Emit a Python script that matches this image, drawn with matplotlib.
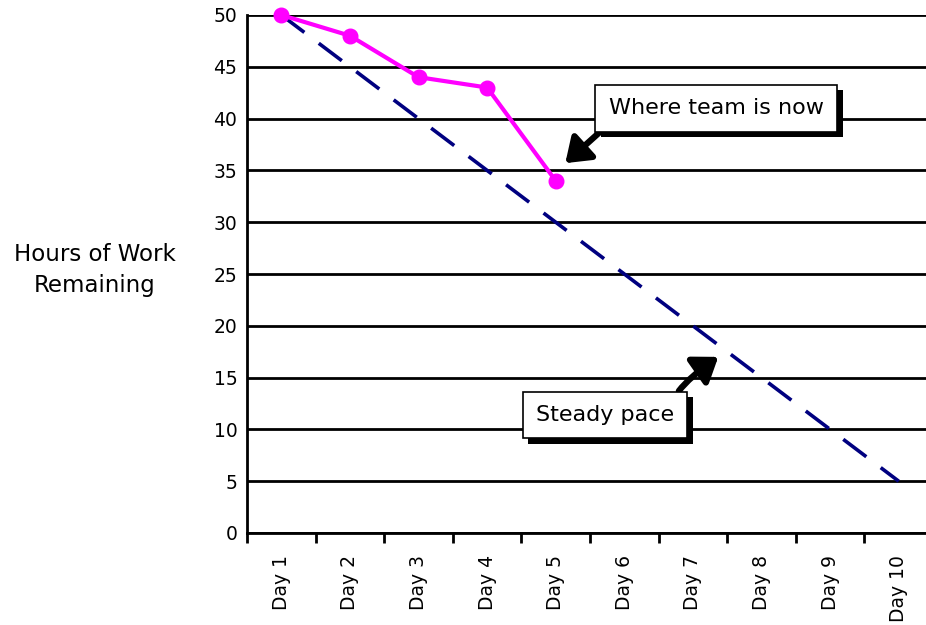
import numpy as np
import matplotlib
matplotlib.use("Agg")
import matplotlib.pyplot as plt
import matplotlib.patheffects as pe

# burndown data
days = ["Day 1", "Day 2", "Day 3", "Day 4", "Day 5",
        "Day 6", "Day 7", "Day 8", "Day 9", "Day 10"]
actual = [50, 48, 44, 43, 34]
steady = [50, 45, 40, 35, 30, 25, 20, 15, 10, 5]
yticks = [0, 5, 10, 15, 20, 25, 30, 35, 40, 45, 50]

plt.rcParams['font.family'] = ['DejaVu Sans']

fig = plt.figure(figsize=(9.26, 6.25), dpi=100)
ax = fig.add_axes([247/926, 92/625, (926-247)/926, 518/625])

x_steady = np.arange(1, len(steady) + 1)
x_actual = np.arange(1, len(actual) + 1)

ax.plot(x_steady, steady, color="#000080", lw=2.6, dashes=(8, 5), zorder=3)
ax.plot(x_actual, actual, color="#FF00FF", lw=3, marker="o", markersize=10.5,
        clip_on=False, zorder=4)

ax.set_xlim(0.5, 0.5 + (926 - 247) / 68.6)
ax.set_ylim(0, 50)

# horizontal grid
ax.set_yticks(yticks)
ax.yaxis.grid(True, color="black", lw=2)
ax.set_axisbelow(True)
ax.tick_params(axis="y", length=0, pad=7, labelsize=13.5)

# category axis: tick marks between days, labels in the middle
ax.set_xticks(np.arange(0.5, 10, 1.0))
ax.set_xticklabels([])
ax.set_xticks(x_steady, minor=True)
ax.set_xticklabels(days, minor=True, rotation=90, fontsize=13.5)
ax.tick_params(axis="x", which="major", length=7, width=2, direction="out")
ax.tick_params(axis="x", which="minor", length=0, pad=16)

for s in ["top", "right"]:
    ax.spines[s].set_visible(False)
for s in ["left", "bottom"]:
    ax.spines[s].set_linewidth(2)

fig.text(95/926, 1 - 270/625, "Hours of Work\nRemaining", ha="center",
         va="center", fontsize=16.5, linespacing=1.45)

box = dict(boxstyle="square,pad=0.6", fc="white", ec="black", lw=1.2)
shadow = [pe.withSimplePatchShadow(offset=(4, -4), shadow_rgbFace="black", alpha=1)]

t1 = ax.annotate("Where team is now", xy=(5.14, 35.7), xytext=(7.34, 41.0),
                 ha="center", va="center", fontsize=16, bbox=box,
                 arrowprops=dict(arrowstyle="-|>,head_length=0.7,head_width=0.5",
                                 lw=4.5, color="black", relpos=(0.03, 0),
                                 shrinkA=0, shrinkB=0, mutation_scale=20),
                 zorder=6)
t1.get_bbox_patch().set_path_effects(shadow)

t2 = ax.annotate("Steady pace", xy=(7.37, 17.0), xytext=(5.72, 11.4),
                 ha="center", va="center", fontsize=16, bbox=box,
                 arrowprops=dict(arrowstyle="-|>,head_length=0.7,head_width=0.5",
                                 lw=4.5, color="black", relpos=(0.99, 1),
                                 connectionstyle="angle3,angleA=90,angleB=35",
                                 shrinkA=0, shrinkB=0, mutation_scale=20),
                 zorder=6)
t2.get_bbox_patch().set_path_effects(shadow)

fig.savefig("out.png", dpi=100)
